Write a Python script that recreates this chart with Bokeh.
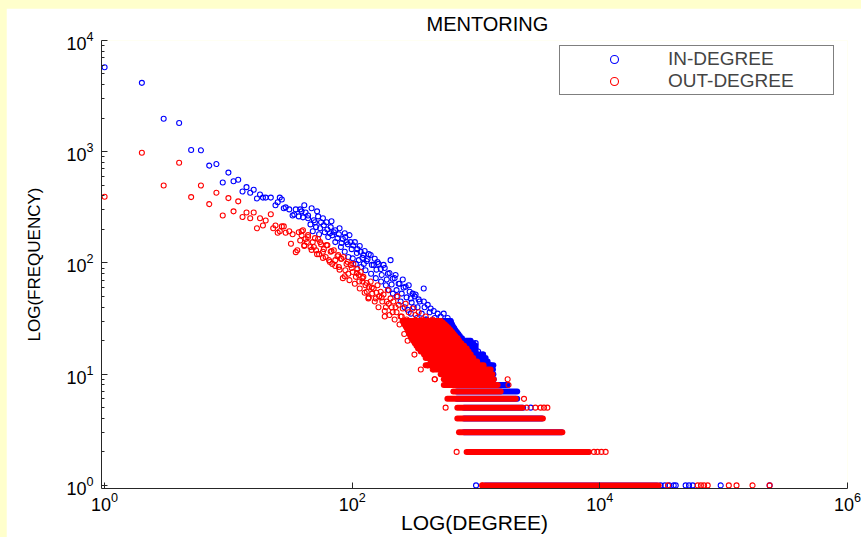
from bokeh.plotting import figure
from bokeh.models import FixedTicker, LogTickFormatter, Legend, LegendItem, Range1d
from bokeh.embed import file_html
from bokeh.resources import INLINE

# ---------------- data ----------------
in_degree = [1, 2, 3, 4, 5, 6, 7, 8, 9, 10, 11, 12, 13, 14, 15, 16, 17, 18,
             19, 20, 22, 24, 25, 26, 27, 28, 29, 31, 33, 34, 35, 37, 38,
             40, 42, 44, 46, 48, 49, 51, 53, 54, 56, 59, 60, 63, 64, 67, 69, 71, 73,
             78, 81, 84, 87, 88, 92, 93, 97, 101, 102, 107, 110, 113, 117, 118, 123,
             124, 128, 133, 141, 142, 149, 155, 160, 170, 171, 179, 187, 194, 197,
             204, 212, 213, 224, 229, 237, 246, 256, 265, 270, 280, 286, 297, 298,
             308, 314, 325, 333, 344, 357, 378, 379, 392, 407, 420, 430, 446, 455,
             472, 490, 500, 518, 535, 548, 568, 590, 603, 624, 648, 660, 684, 710,
             730, 751, 775, 790, 824, 850, 870, 905, 935, 950, 993, 1012, 1040, 1140,
             1240, 1312, 2762,
             39, 41, 44, 47, 50, 52, 55, 58, 62, 66, 68, 73, 76, 79, 82, 87, 90, 95,
             99, 105, 109, 115, 121, 126, 131, 136, 144, 152, 157, 163, 173, 183, 190,
             200, 208, 220, 228, 241, 251, 260, 275, 291, 302, 319, 337, 350, 364, 384,
             399, 422, 438, 463, 481, 508, 528, 558,
             1000, 31000, 33500, 36500, 39500, 41000, 49300, 52500, 56200, 94600, 235000]
in_freq = [5740, 4160, 1980, 1815, 1036, 1030, 750, 775, 529, 649, 543, 560, 439, 480, 428, 455, 380, 413,
           387, 387, 387, 330, 351, 387, 372, 310, 316, 303, 267, 273, 303, 262, 303,
           257, 284, 267, 222, 193, 242, 210, 262, 181, 232, 218, 189, 200, 171, 210, 177, 189, 154,
           181, 139, 164, 126, 171, 147, 113, 154, 110, 144, 98, 133, 106, 126, 92, 118,
           98, 86, 108, 118, 80, 96, 73, 102, 88, 68, 96, 63, 80, 57,
           106, 72, 53, 78, 50, 65, 45, 71, 40, 61, 38, 63, 48, 35,
           53, 40, 52, 32, 47, 30, 59, 45, 31, 42, 27, 39, 30, 37,
           24, 35, 27, 33, 22, 35, 24, 32, 20, 30, 22, 26, 18, 23,
           19, 21, 17, 20, 15, 19, 17, 14, 18, 15, 19, 14, 16, 15,
           12, 12, 5,
           291, 330, 252, 310, 232, 291, 205, 252, 232, 185, 237, 197, 167, 205, 151, 185, 154, 178,
           133, 154, 123, 142, 111, 128, 104, 120, 96, 109, 87, 98, 78, 90, 71,
           81, 64, 73, 57, 65, 53, 60, 49, 55, 44, 50, 40, 45, 35, 40,
           31, 36, 27, 32, 25, 28, 23, 26,
           1, 1, 1, 1, 1, 1, 1, 1, 1, 1, 1]

out_degree = [1, 2, 3, 4, 5, 6, 7, 8, 9, 10, 11, 12, 13, 14, 15, 16, 17, 18, 19, 20,
              22, 23, 24, 25, 26, 27, 28, 29, 31, 32, 33, 35, 36, 37, 38, 39, 40, 41,
              42, 43, 44, 46, 48, 49, 51, 53, 54, 56, 58, 59, 61, 63, 65, 67, 69, 71,
              73, 77, 78, 81, 84, 85, 88, 92, 93, 97, 101, 102, 107, 110, 113, 114,
              117, 121, 123, 128, 131, 135, 136, 141, 145, 149, 155, 160, 165, 170,
              175, 179, 183, 187, 194, 197, 204, 212, 215, 224, 232, 237, 246, 256,
              262, 263, 270, 275, 280, 286, 297, 308, 314, 318, 325, 333, 344, 357,
              358, 370, 378, 392, 400, 407, 420, 430, 446, 447, 455, 465, 472, 485,
              500, 518, 535, 548, 568, 580, 603, 610, 624, 660, 684, 710, 730, 751,
              775, 790, 824, 850,
              39, 41, 44, 47, 50, 52, 55, 58, 62, 66, 68, 73, 76, 79, 82, 87, 90, 95,
              99, 105, 109, 115, 121, 126, 131, 136, 144, 152, 157, 163, 173, 183, 190,
              200, 208, 220, 228, 241, 251,
              568, 2566, 3013, 3326, 3538, 3767, 697, 8960, 9550, 10290, 11130,
              2440, 463, 1800, 1830,
              1120, 35500, 61700, 65500, 69500, 74300, 110000, 127000, 171000, 235000]
out_freq = [394, 980, 497, 797, 391, 497, 338, 428, 267, 383, 291, 358, 259, 284, 252, 284, 205, 252, 217, 241,
            274, 205, 217, 187, 193, 213, 213, 187, 193, 149, 181, 125, 130, 189, 159, 177, 197, 144,
            164, 154, 171, 139, 154, 139, 130, 164, 120, 147, 126, 133, 113, 144, 106, 126, 98, 130,
            106, 118, 92, 109, 73, 113, 86, 102, 80, 96, 83, 98, 75, 88, 78, 68,
            83, 68, 75, 63, 55, 48, 61, 68, 53, 59, 48, 63, 50, 55,
            45, 52, 33, 40, 57, 43, 48, 36, 45, 40, 50, 42, 33, 39,
            30, 23, 43, 31, 20, 36, 28, 39, 26, 15, 34, 28, 36, 24,
            11, 31, 23, 33, 20, 12, 28, 22, 31, 11, 19, 9, 27, 20,
            28, 18, 24, 17, 26, 18, 23, 16, 23, 20, 15, 21, 16, 17,
            14, 18, 15, 16,
            193, 142, 178, 131, 167, 120, 154, 111, 145, 102, 128, 94, 115, 87, 109, 76, 98, 70,
            90, 65, 81, 59, 73, 54, 66, 49, 60, 45, 54, 40, 49, 37, 45,
            34, 40, 31, 36, 28, 33,
            5, 5, 5, 5, 5, 5, 2, 2, 2, 2, 2,
            6, 9, 9, 8,
            1, 1, 1, 1, 1, 1, 1, 1, 1, 1]

# low integer frequencies: runs of consecutive degrees sharing one count
in_band_freq = [1, 2, 3, 4, 5, 6, 7, 8, 9, 10, 11, 12, 13, 14, 15, 16, 17, 18, 19, 20,
                21, 22, 23, 24, 25, 26, 27, 28, 29, 30]
in_band_start = [1180, 900, 800, 800, 800, 700, 700, 650, 650, 600, 550, 500, 500, 480, 470, 460, 450, 440, 430, 420,
                 420, 410, 400, 390, 380, 370, 360, 350, 340, 330]
in_band_end = [29000, 8000, 4900, 3400, 2400, 2150, 2150, 1800, 1390, 1380, 1370, 1380, 1240, 1195, 1140, 993, 993, 993, 950, 905,
               770, 740, 720, 700, 680, 665, 650, 640, 630, 620]

out_band_freq = [1, 2, 3, 4, 5, 6, 7, 8, 9, 10, 11, 12, 13, 14, 15, 16, 17, 18, 19, 20,
                 21, 22, 23, 24, 25, 26, 27, 28, 29, 30]
out_band_start = [1130, 839, 728, 706, 706, 587, 655, 549, 549, 518, 454, 392, 430, 392, 380, 357, 340, 330, 320, 310,
                  300, 295, 290, 285, 280, 275, 270, 265, 260, 255]
out_band_end = [29850, 8166, 4977, 3467, 2366, 2090, 1580, 1494, 1390, 1355, 1312, 1150, 1020, 950, 905, 870, 840, 800, 760, 730,
                700, 680, 660, 640, 620, 600, 580, 560, 540, 520]

x_ticks = [1, 100, 10000, 1000000]
y_ticks = [1, 10, 100, 1000, 10000]

BLUE = "#0000ff"
RED = "#ff0000"
FONT = "Liberation Sans"

p = figure(width=855, height=529, x_axis_type="log", y_axis_type="log",
           x_range=Range1d(10 ** -0.025, 1e6), y_range=Range1d(10 ** -0.028, 1e4),
           output_backend="svg", toolbar_location=None,
           min_border_left=95, min_border_right=14, min_border_top=29, min_border_bottom=49)

p.title.text = "MENTORING"
p.title.align = "left"
p.title.offset = 325
p.title.vertical_align = "top"
p.title.standoff = 8
p.title.text_line_height = 1.0
p.title.text_font = FONT
p.title.text_font_size = "20px"
p.title.text_font_style = "normal"
p.title.text_color = "black"

p.background_fill_color = "white"
p.border_fill_color = "white"
p.outline_line_color = None
p.grid.visible = False

# bands (under the scatter)
p.segment(x0=in_band_start, y0=in_band_freq, x1=in_band_end, y1=in_band_freq,
          line_color=BLUE, line_width=6, line_cap="round")
blue = p.scatter(in_degree, in_freq, marker="circle", size=5, fill_color=None,
                 line_color=BLUE, line_width=1.1)
p.segment(x0=out_band_start, y0=out_band_freq, x1=out_band_end, y1=out_band_freq,
          line_color=RED, line_width=6, line_cap="round")
red = p.scatter(out_degree, out_freq, marker="circle", size=5, fill_color=None,
                line_color=RED, line_width=1.1)

minor_y = [m * 10 ** k for k in range(4) for m in range(2, 10)]
p.xaxis.ticker = FixedTicker(ticks=x_ticks, minor_ticks=[])
p.yaxis.ticker = FixedTicker(ticks=y_ticks, minor_ticks=minor_y)
p.xaxis.formatter = LogTickFormatter()
p.yaxis.formatter = LogTickFormatter()

for ax in (p.xaxis[0], p.yaxis[0]):
    ax.axis_line_color = "#262626"
    ax.axis_line_width = 1
    ax.major_tick_line_color = "#262626"
    ax.minor_tick_line_color = "#262626"
    ax.major_tick_in = 6
    ax.major_tick_out = 0
    ax.minor_tick_in = 3
    ax.minor_tick_out = 0
    ax.major_label_text_font = FONT
    ax.major_label_text_font_size = "18px"
    ax.major_label_text_color = "black"
    ax.axis_label_text_font = FONT
    ax.axis_label_text_font_style = "normal"
    ax.axis_label_text_color = "black"

p.xaxis.axis_label = "LOG(DEGREE)"
p.xaxis.axis_label_text_font_size = "21px"
p.xaxis.major_label_standoff = 3
p.xaxis.axis_label_standoff = -3
p.yaxis.axis_label = "LOG(FREQUENCY)"
p.yaxis.axis_label_text_font_size = "17px"
p.yaxis.major_label_standoff = 8
p.yaxis.axis_label_standoff = 19

legend = Legend(items=[LegendItem(label="IN-DEGREE", renderers=[blue]),
                       LegendItem(label="OUT-DEGREE", renderers=[red])],
                location=(458, 393), glyph_width=104, glyph_height=20,
                label_height=20, label_width=163, label_standoff=2,
                padding=2, spacing=0, margin=0,
                border_line_color="black", border_line_width=1,
                background_fill_color="white", background_fill_alpha=1,
                label_text_font=FONT, label_text_font_size="19px")
p.add_layout(legend)

html = file_html(p, INLINE)
html = html.replace("</head>",
                    "<style>html{background:#ffffcc;} body{background:#ffffcc;"
                    "margin:8px 0 0 6px !important;height:auto !important;}</style></head>", 1)
open("out.html", "w").write(html)
